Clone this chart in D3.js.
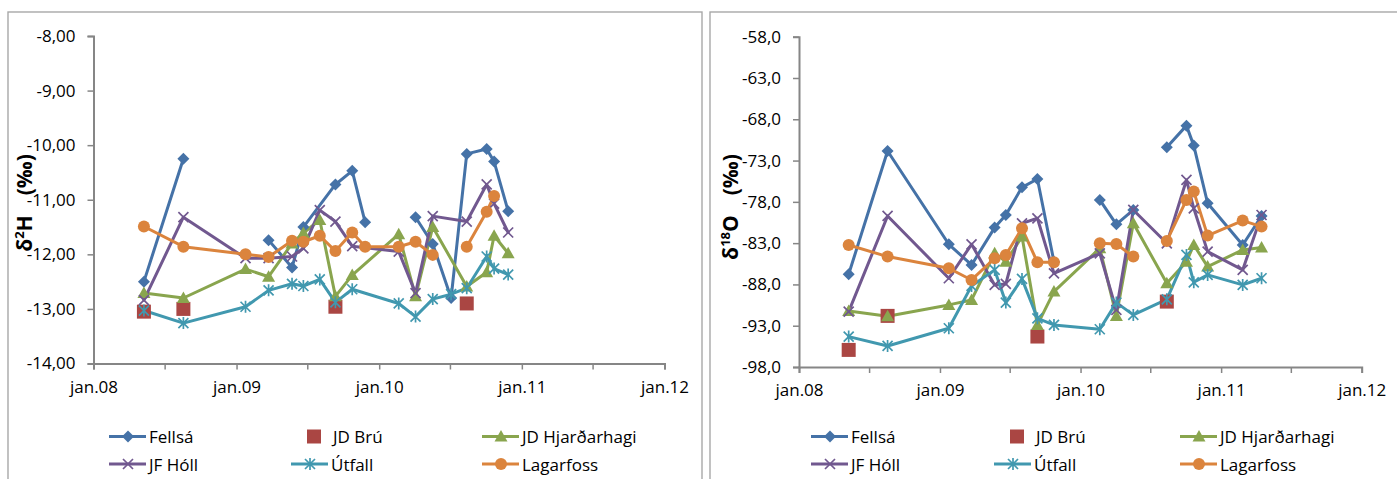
<!DOCTYPE html>
<html><head><meta charset="utf-8">
<script src="https://cdn.jsdelivr.net/npm/d3@7"></script>
<style>body{margin:0;background:#fff}svg{display:block}text{font-family:"Open Sans",sans-serif;fill:#000}</style>
</head><body><svg id="c" width="1397" height="479"></svg>
<script>
// ---------- DATA ----------
const dates = ["2008-05-09","2008-08-18","2009-01-24","2009-03-24","2009-05-23","2009-06-21","2009-08-02","2009-09-11","2009-10-24","2009-11-26","2010-02-20","2010-04-04","2010-05-18","2010-07-04","2010-08-13","2010-10-03","2010-10-22","2010-11-27","2011-02-26","2011-04-16"];
const seriesNames = ["Fellsá","JD Brú","JD Hjarðarhagi","JF Hóll","Útfall","Lagarfoss"];

// delta 2H (left panel)
const fellsaH = [-12.50,-10.25,null,-11.74,-12.24,-11.50,null,-10.72,-10.47,-11.41,null,-11.32,-11.81,-12.80,-10.16,-10.07,-10.30,-11.21,null,null];
const jdBruH  = [-13.05,-13.00,null,null,null,null,null,-12.96,null,null,null,null,null,null,-12.90,null,null,null,null,null];
const hjardH  = [-12.71,-12.80,-12.27,-12.41,-11.80,-11.61,-11.37,-12.77,-12.38,null,-11.63,-12.77,-11.50,null,-12.59,-12.33,-11.66,-11.98,null,null];
const hollH   = [-12.84,-11.32,-12.07,-12.07,-12.04,-11.89,-11.19,-11.40,-11.85,null,-11.95,-12.71,-11.30,null,-11.40,-10.72,-11.07,-11.60,null,null];
const utfallH = [-13.03,-13.26,-12.96,-12.66,-12.54,-12.58,-12.46,-12.88,-12.64,null,-12.90,-13.14,-12.82,-12.73,-12.62,-12.04,-12.26,-12.37,null,null];
const lagarH  = [-11.49,-11.86,-12.00,-12.05,-11.75,-11.77,-11.66,-11.94,-11.60,-11.86,-11.86,-11.77,-12.01,null,-11.86,-11.22,-10.93,null,null,null];
const breaksH = {"Fellsá":[3,11],"Lagarfoss":[14]};

// delta 18O (right panel)
const fellsaO = [-86.77,-71.84,-83.14,-85.64,-81.12,-79.59,-76.24,-75.23,-85.24,null,-77.77,-80.72,-78.98,null,-71.39,-68.77,-71.19,-78.17,-83.22,-79.71];
const jdBruO  = [-95.93,-91.81,null,null,null,null,null,-94.31,null,null,null,null,null,null,-90.08,null,null,null,null,null];
const hjardO  = [-91.21,-91.85,-90.48,-89.88,-84.23,-85.24,-82.21,-92.90,-88.87,null,-83.62,-91.81,-80.60,null,-87.86,-85.24,-83.22,-85.84,-83.82,-83.54];
const hollO   = [-91.29,-79.71,-87.25,-83.14,-88.06,-87.94,-80.60,-79.99,-86.65,null,-84.23,-91.09,-78.98,null,-83.02,-75.35,-78.78,-84.03,-86.24,-79.59];
const utfallO = [-94.32,-95.45,-93.31,-88.18,-86.24,-90.20,-87.33,-92.10,-92.90,null,-93.43,-90.20,-91.69,null,-89.80,-84.43,-87.74,-86.85,-88.06,-87.25];
const lagarO  = [-83.22,-84.63,-86.04,-87.46,-84.83,-84.43,-81.20,-85.32,-85.32,null,-83.02,-83.10,-84.63,null,-82.73,-77.77,-76.76,-82.09,-80.27,-81.00];
const breaksO = {"Fellsá":[10,14],"Lagarfoss":[10,14]};

const yTicksH = [-8,-9,-10,-11,-12,-13,-14];
const yTicksO = [-58,-63,-68,-73,-78,-83,-88,-93,-98];
const xTickLabels = ["jan.08","jan.09","jan.10","jan.11","jan.12"];

// ---------- STYLE / LAYOUT ----------
const colors = ["#4572A7","#AA4643","#89A54E","#71588F","#4198AF","#DB843D"];
const markers = ["diamond","square","triangle","x","star","circle"];
const hasLine = [true,false,true,true,true,true];
const parse = d3.timeParse("%Y-%m-%d");
const dateObjs = dates.map(parse);
const svg = d3.select("#c");

function markerPath(type){
  switch(type){
    case "diamond": return "M0,-6L6,0L0,6L-6,0Z";
    case "square": return "M-7,-7H7V7H-7Z";
    case "triangle": return "M0,-6.5L6.5,5L-6.5,5Z";
    case "x": return "M-5,-5L5,5M-5,5L5,-5";
    case "star": return "M-5,-5L5,5M-5,5L5,-5M0,-6L0,6";
    case "circle": return null;
  }
}
function drawMarker(g, type, color){
  if(type==="circle"){
    g.append("circle").attr("r",6).attr("fill",color);
  } else if(type==="x"||type==="star"){
    g.append("path").attr("d",markerPath(type)).attr("fill","none").attr("stroke",color).attr("stroke-width",1.7);
  } else {
    g.append("path").attr("d",markerPath(type)).attr("fill",color);
  }
}

function panel(cfg){
  const g = svg.append("g");
  g.append("rect").attr("x",cfg.fx).attr("y",12).attr("width",cfg.fw).attr("height",520)
    .attr("fill","#fff").attr("stroke","#A8A8A8").attr("stroke-width",1.4);
  const x = d3.scaleTime().domain([new Date(2008,0,1),new Date(2012,0,1)]).range(cfg.xr);
  const y = d3.scaleLinear().domain(cfg.yd).range(cfg.yr);
  const axisColor="#868686";
  // y axis
  const ya = g.append("g").attr("transform",`translate(${cfg.xr[0]},0)`)
    .call(d3.axisLeft(y).tickValues(cfg.yTicks).tickSize(6).tickPadding(12)
      .tickFormat(d=>d3.format(cfg.fmt)(d).replace(".",",").replace("−","-")));
  ya.select(".domain").attr("stroke",axisColor).attr("stroke-width",2);
  ya.selectAll(".tick line").attr("stroke",axisColor).attr("stroke-width",1.5);
  ya.selectAll(".tick text").attr("font-size",17).attr("font-family","Open Sans").attr("fill","#000");
  // x axis
  const halfYears = d3.timeMonth.every(6).range(new Date(2008,0,1),new Date(2012,0,2));
  const xa = g.append("g").attr("transform",`translate(0,${cfg.yr[0]})`)
    .call(d3.axisBottom(x).tickValues(halfYears).tickSize(6).tickPadding(11)
      .tickFormat(d=> d.getMonth()===0 ? xTickLabels[d.getFullYear()-2008] : ""));
  xa.select(".domain").attr("stroke",axisColor).attr("stroke-width",2);
  xa.selectAll(".tick line").attr("stroke",axisColor).attr("stroke-width",1.5);
  xa.selectAll(".tick text").attr("font-size",17).attr("font-family","Open Sans").attr("fill","#000");
  // y title
  const t = g.append("text").attr("transform",`translate(${cfg.tx},${cfg.ty}) rotate(-90)`)
    .attr("text-anchor","middle").attr("font-size",21).attr("font-weight","bold");
  t.append("tspan").text("δ");
  t.append("tspan").attr("dy",-8).attr("font-size",13).text(cfg.sup);
  t.append("tspan").attr("dy",8).text(cfg.el);
  t.append("tspan").attr("dx",20).text("(‰)");
  // lines
  const line = d3.line().x(d=>x(d[0])).y(d=>y(d[1]));
  cfg.series.forEach((vals,si)=>{
    if(!hasLine[si]) return;
    const br = cfg.breaks[seriesNames[si]]||[];
    const segs=[[]];
    vals.forEach((v,i)=>{
      if(br.includes(i)) segs.push([]);
      if(v!==null) segs[segs.length-1].push([dateObjs[i],v]);
    });
    segs.filter(s=>s.length>1).forEach(s=>{
      g.append("path").attr("d",line(s)).attr("fill","none").attr("stroke",colors[si])
        .attr("stroke-width",3).attr("stroke-linejoin","round").attr("stroke-linecap","round");
    });
  });
  // markers
  cfg.series.forEach((vals,si)=>{
    vals.forEach((v,i)=>{
      if(v===null) return;
      const m = g.append("g").attr("transform",`translate(${x(dateObjs[i])},${y(v)})`);
      drawMarker(m,markers[si],colors[si]);
    });
  });
  // legend
  seriesNames.forEach((name,si)=>{
    const col = si%3, row = Math.floor(si/3);
    const lx = cfg.legCols[col], ly = [436.5,464][row];
    const lg = g.append("g");
    if(hasLine[si]) lg.append("line").attr("x1",lx).attr("x2",lx+37).attr("y1",ly).attr("y2",ly)
      .attr("stroke",colors[si]).attr("stroke-width",3);
    drawMarker(lg.append("g").attr("transform",`translate(${lx+(hasLine[si]?19:23)},${ly})`),markers[si],colors[si]);
    lg.append("text").attr("x",lx+(hasLine[si]?40:42)).attr("y",ly+6.5).attr("font-size",17).text(name);
  });
}

panel({fx:8,fw:694,xr:[93.5,664.5],yr:[363.5,36],yd:[-14,-8],yTicks:yTicksH,fmt:".2f",
  tx:32,ty:203,sup:"2",el:"H",series:[fellsaH,jdBruH,hjardH,hollH,utfallH,lagarH],breaks:breaksH,
  legCols:[109,291,482]});
panel({fx:710,fw:700,xr:[799,1361.7],yr:[367,36.7],yd:[-98,-58],yTicks:yTicksO,fmt:".1f",
  tx:738,ty:207,sup:"18",el:"O",series:[fellsaO,jdBruO,hjardO,hollO,utfallO,lagarO],breaks:breaksO,
  legCols:[811,994,1180]});
</script></body></html>
